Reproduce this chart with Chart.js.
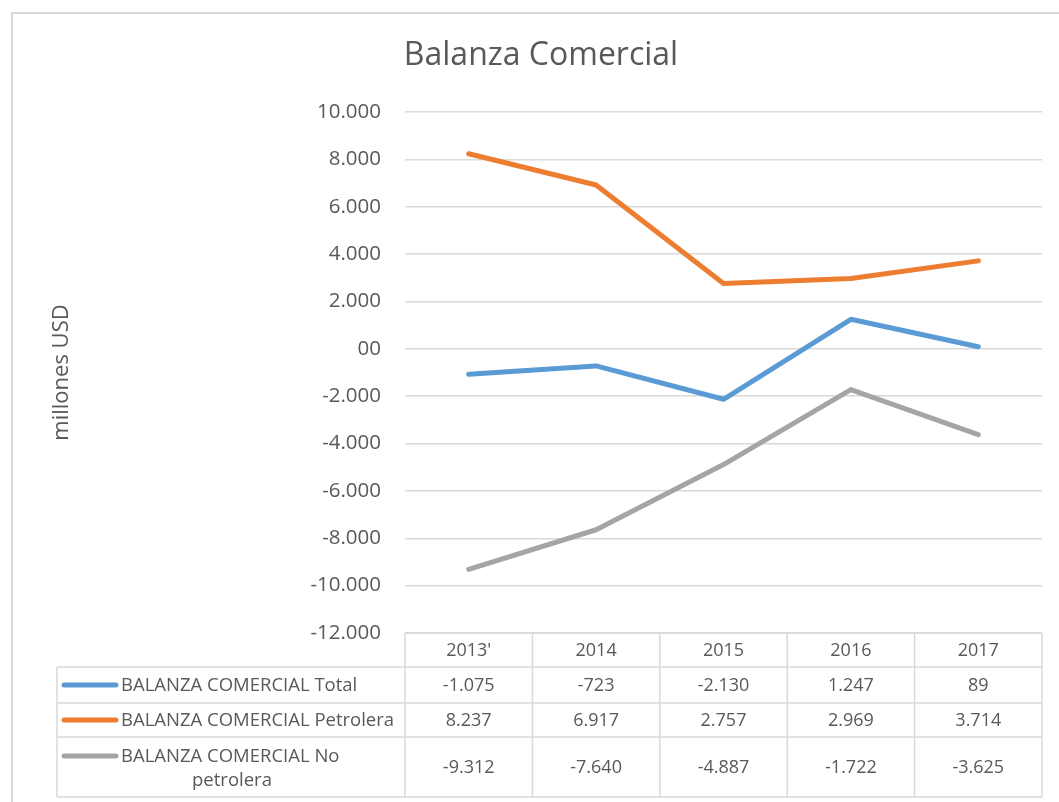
<!DOCTYPE html>
<html>
<head>
<meta charset="utf-8">
<script src="https://cdn.jsdelivr.net/npm/chart.js@4.4.1/dist/chart.umd.min.js"></script>
<style>
  html, body { margin: 0; padding: 0; background: #fff; }
  #wrap { position: relative; width: 1059px; height: 802px; }
  #marco { position: absolute; left: 11px; top: 12px; width: 1060px; height: 800px; border: 2px solid #d9d9d9; box-sizing: border-box; }
</style>
</head>
<body>
<div id="wrap">
  <div id="marco"></div>
  <canvas id="balanza" width="1059" height="802"></canvas>
</div>
<script>
// Datos
const anios = ["2013'", "2014", "2015", "2016", "2017"];
const total = [-1075, -723, -2130, 1247, 89];
const petrolera = [8237, 6917, 2757, 2969, 3714];
const noPetrolera = [-9312, -7640, -4887, -1722, -3625];
const yTicks = [10000, 8000, 6000, 4000, 2000, 0, -2000, -4000, -6000, -8000, -10000, -12000];

const fuente = "'Open Sans', 'Noto Sans', sans-serif";
const gris = '#d9d9d9';

// formato 10.000 / 00
function formato(v) {
    if (v === 0) return '00';
    const s = Math.abs(v).toString().replace(/\B(?=(\d{3})+(?!\d))/g, '.');
    return (v < 0 ? '-' : '') + s;
}

const series = [
    { label: 'BALANZA COMERCIAL Total', data: total, color: '#5b9bd5', lineas: ['BALANZA COMERCIAL Total'] },
    { label: 'BALANZA COMERCIAL Petrolera', data: petrolera, color: '#ed7d31', lineas: ['BALANZA COMERCIAL Petrolera'] },
    { label: 'BALANZA COMERCIAL No petrolera', data: noPetrolera, color: '#a5a5a5', lineas: ['BALANZA COMERCIAL No', 'petrolera'] }
];

// Tabla de datos debajo del grafico (estilo Excel)
const tablaDatos = {
    id: 'tablaDatos',
    afterDraw(chart) {
        const ctx = chart.ctx;
        const x = chart.scales.x;
        const area = chart.chartArea;
        const izq = 57;
        const filas = [area.bottom, area.bottom + 34, area.bottom + 70, area.bottom + 104, area.bottom + 164];
        const ancho = (area.right - area.left) / anios.length;

        ctx.save();
        ctx.strokeStyle = gris;
        ctx.lineWidth = 1.5;
        ctx.beginPath();
        // horizontales
        ctx.moveTo(area.left, filas[0]); ctx.lineTo(area.right, filas[0]);
        for (let i = 1; i < filas.length; i++) {
            ctx.moveTo(izq, filas[i]); ctx.lineTo(area.right, filas[i]);
        }
        // verticales
        ctx.moveTo(izq, filas[1]); ctx.lineTo(izq, filas[4]);
        for (let i = 0; i <= anios.length; i++) {
            const cx = area.left + i * ancho;
            ctx.moveTo(cx, filas[0]); ctx.lineTo(cx, filas[4]);
        }
        ctx.stroke();

        ctx.fillStyle = '#595959';
        ctx.font = '18px ' + fuente;
        ctx.textAlign = 'center';
        ctx.textBaseline = 'middle';
        anios.forEach((a, i) => {
            ctx.fillText(a, x.getPixelForValue(i), (filas[0] + filas[1]) / 2 + 1);
        });

        series.forEach((s, r) => {
            const yc = (filas[r + 1] + filas[r + 2]) / 2;
            s.data.forEach((v, i) => {
                ctx.fillText(formato(v), x.getPixelForValue(i), yc + 1);
            });
            // leyenda
            const yl = s.lineas.length > 1 ? yc - 11 : yc;
            ctx.strokeStyle = s.color;
            ctx.lineWidth = 5;
            ctx.lineCap = 'round';
            ctx.beginPath();
            ctx.moveTo(64, yl); ctx.lineTo(116, yl);
            ctx.stroke();
            ctx.textAlign = 'left';
            ctx.font = '18.5px ' + fuente;
            ctx.fillText(s.lineas[0], 121, yl + 1);
            if (s.lineas.length > 1) {
                ctx.textAlign = 'center';
                ctx.fillText(s.lineas[1], 232, yc + 14);
            }
            ctx.font = '18px ' + fuente;
            ctx.textAlign = 'center';
        });
        ctx.restore();
    }
};

new Chart(document.getElementById('balanza'), {
    type: 'line',
    data: {
        labels: anios,
        datasets: series.map(s => ({
            label: s.label,
            data: s.data,
            borderColor: s.color,
            backgroundColor: s.color,
            borderWidth: 5,
            borderCapStyle: 'round',
            borderJoinStyle: 'round',
            pointRadius: 0,
            tension: 0
        }))
    },
    options: {
        responsive: false,
        animation: false,
        layout: { padding: { left: 40, right: 17, top: 0, bottom: 169 } },
        plugins: {
            legend: { display: false },
            tooltip: { enabled: false },
            title: {
                display: true,
                text: 'Balanza Comercial',
                color: '#595959',
                font: { family: fuente, size: 32, weight: 'normal' },
                padding: { top: 37, bottom: 36.6 }
            }
        },
        scales: {
            x: {
                display: false,
                offset: true
            },
            y: {
                min: -12000,
                max: 10000,
                afterBuildTicks(scale) {
                    scale.ticks = yTicks.map(v => ({ value: v }));
                },
                afterFit(scale) {
                    scale.width = 365;
                },
                border: { display: false },
                grid: { color: gris, lineWidth: 1.5, drawTicks: false },
                ticks: {
                    color: '#595959',
                    font: { family: fuente, size: 20.5 },
                    padding: 24,
                    callback: v => formato(v)
                },
                title: {
                    display: true,
                    text: 'millones USD',
                    color: '#595959',
                    font: { family: fuente, size: 22 },
                    padding: { top: 9, bottom: 0 }
                }
            }
        }
    },
    plugins: [tablaDatos]
});
</script>
</body>
</html>
